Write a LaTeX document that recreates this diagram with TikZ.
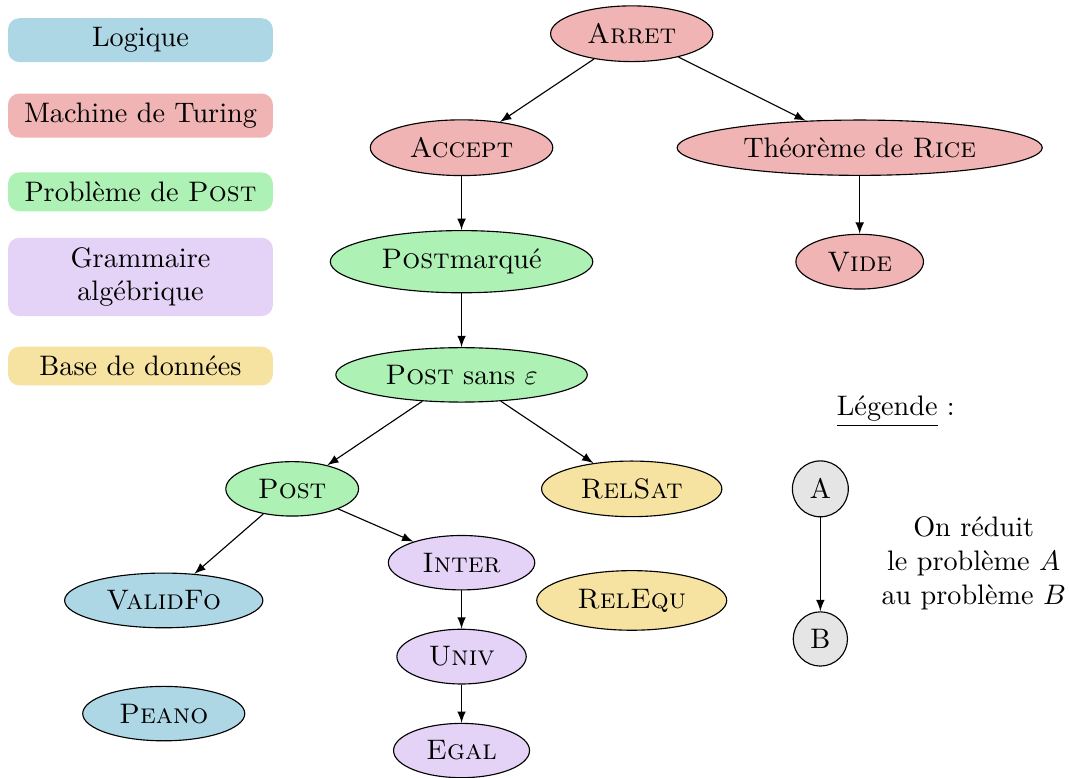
\documentclass[tikz,border=0pt]{standalone}
\usepackage{tikz}
\usetikzlibrary{shapes.geometric}

\definecolor{cLogique}{RGB}{174,215,230}
\definecolor{cTuring}{RGB}{241,180,180}
\definecolor{cPost}{RGB}{174,241,180}
\definecolor{cGram}{RGB}{228,211,246}
\definecolor{cBdd}{RGB}{247,227,161}

\tikzset{
  pb/.style={ellipse, draw, inner xsep=4.5pt},
  logique/.style={pb, fill=cLogique},
  turing/.style={pb, fill=cTuring},
  postpb/.style={pb, fill=cPost},
  grammaire/.style={pb, fill=cGram},
  bdd/.style={pb, fill=cBdd},
  cat/.style={rounded corners=4pt, minimum width=3.3cm, align=center},
  red/.style={-latex}
}

\begin{document}
\begin{tikzpicture}
\useasboundingbox (0,0) rectangle (13.33,-9.69);

% legende des couleurs
\node[cat, fill=cLogique] (cl) at (1.75,-0.50) {Logique};
\node[cat, fill=cTuring] (ct) at (1.75,-1.44) {Machine de Turing};
\node[cat, fill=cPost] (cp) at (1.75,-2.39) {Problème de \textsc{Post}};
\node[cat, fill=cGram] (cg) at (1.75,-3.45) {Grammaire\\algébrique};
\node[cat, fill=cBdd] (cb) at (1.75,-4.56) {Base de données};

% problemes
\node[turing] (arret) at (7.87,-0.42) {\textsc{Arret}};
\node[turing] (accept) at (5.75,-1.84) {\textsc{Accept}};
\node[turing] (rice) at (10.71,-1.84) {Théorème de \textsc{Rice}};
\node[turing] (vide) at (10.71,-3.26) {\textsc{Vide}};

\node[postpb] (postm) at (5.75,-3.26) {\textsc{Post}marqué};
\node[postpb] (postse) at (5.75,-4.67) {\textsc{Post} sans $\varepsilon$};
\node[postpb] (post) at (3.64,-6.09) {\textsc{Post}};

\node[bdd] (relsat) at (7.87,-6.09) {\textsc{RelSat}};
\node[bdd] (relequ) at (7.87,-7.48) {\textsc{RelEqu}};

\node[grammaire] (inter) at (5.75,-7.01) {\textsc{Inter}};
\node[grammaire] (univ) at (5.75,-8.18) {\textsc{Univ}};
\node[grammaire] (egal) at (5.75,-9.35) {\textsc{Egal}};

\node[logique] (validfo) at (2.04,-7.48) {\textsc{ValidFo}};
\node[logique] (peano) at (2.04,-8.89) {\textsc{Peano}};

% reductions
\draw[red] (arret) -- (accept);
\draw[red] (arret) -- (rice);
\draw[red] (rice) -- (vide);
\draw[red] (accept) -- (postm);
\draw[red] (postm) -- (postse);
\draw[red] (postse) -- (post);
\draw[red] (postse) -- (relsat);
\draw[red] (post) -- (validfo);
\draw[red] (post) -- (inter);
\draw[red] (inter) -- (univ);
\draw[red] (univ) -- (egal);

% legende
\node (leg) at (11.16,-5.13) {\underline{Légende} :};
\node[circle, draw, fill=gray!20] (a) at (10.22,-6.09) {A};
\node[circle, draw, fill=gray!20] (b) at (10.22,-7.96) {B};
\draw[red] (a) -- (b);
\node[align=center] (expl) at (12.13,-7.02) {On réduit\\le problème $A$\\au problème $B$};
\end{tikzpicture}
\end{document}
